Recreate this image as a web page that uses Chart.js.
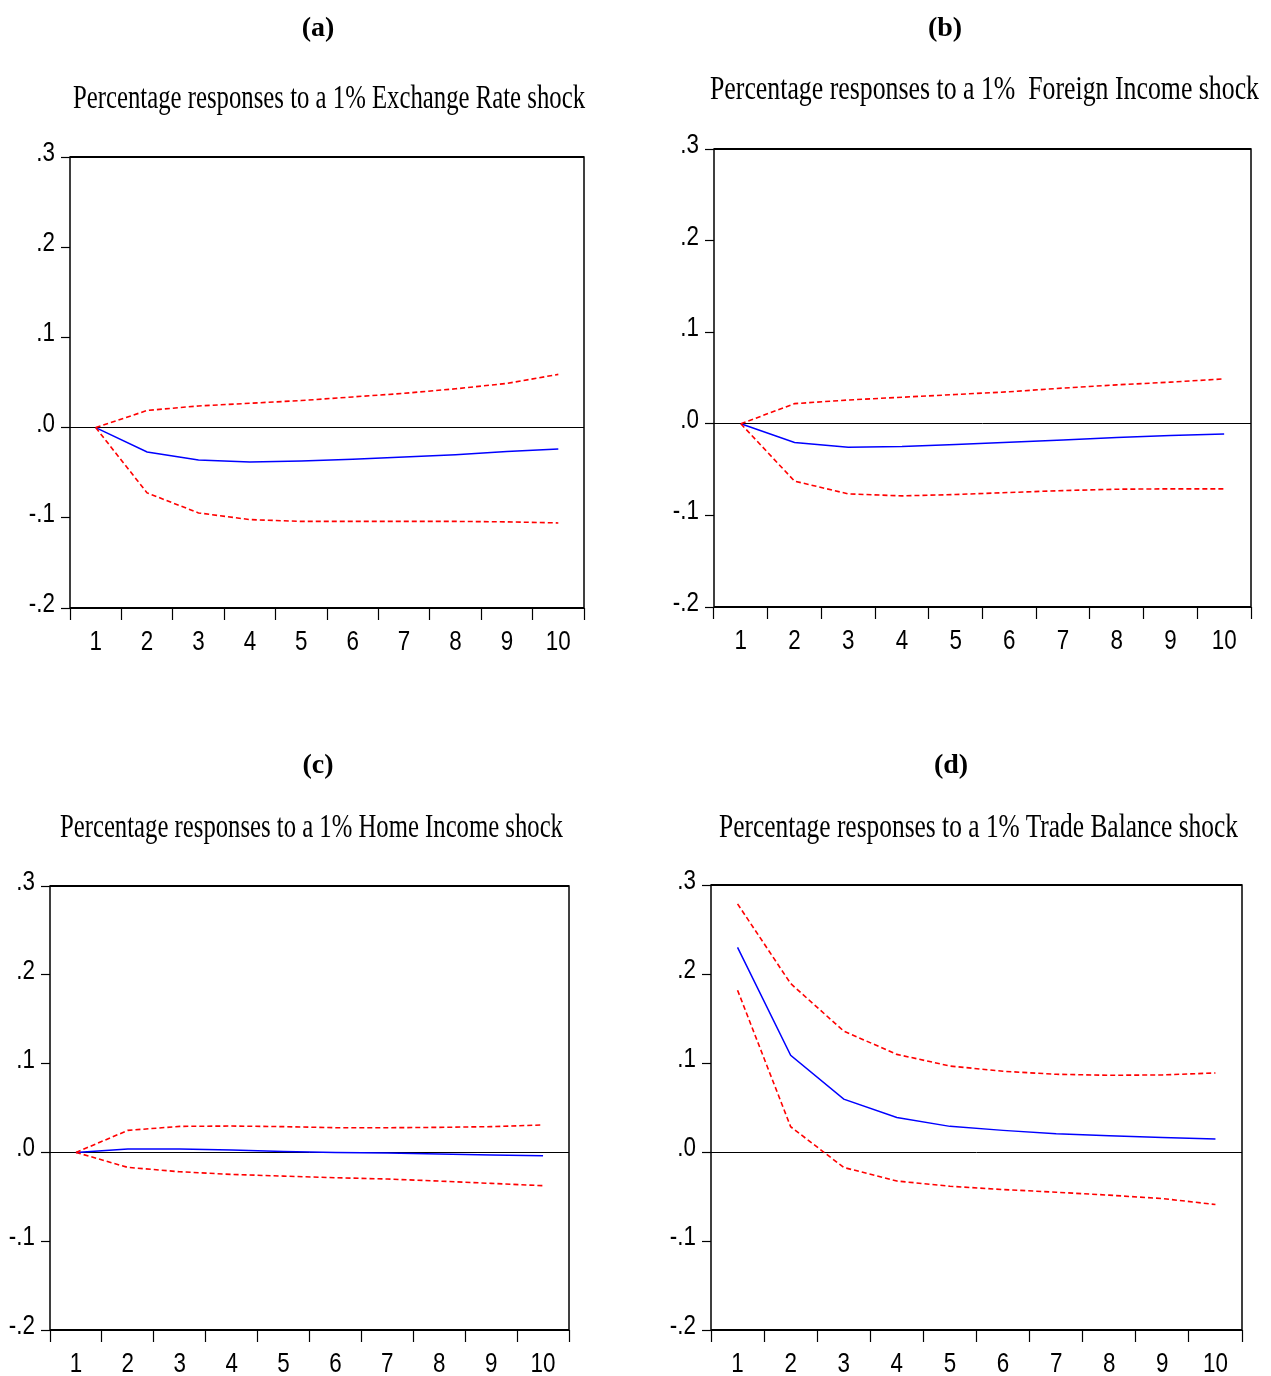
<!DOCTYPE html>
<html>
<head>
<meta charset="utf-8">
<script src="https://cdn.jsdelivr.net/npm/chart.js@4.4.0/dist/chart.umd.min.js"></script>
<style>
body { margin: 0; background: #fff; width: 1271px; height: 1376px; position: relative; overflow: hidden; }
canvas { position: absolute; }
.tag { position: absolute; font: bold 28px 'Liberation Serif', serif; transform: translate(-50%, -50%); line-height: 1; }
.ttl { position: absolute; font: 33px 'Liberation Serif', serif; white-space: pre; line-height: 1; transform-origin: 0 50%; }
</style>
</head>
<body>
<canvas id="ca" width="635" height="688" style="left:0;top:0"></canvas>
<canvas id="cb" width="635" height="688" style="left:636px;top:0"></canvas>
<canvas id="cc" width="635" height="688" style="left:0;top:688px"></canvas>
<canvas id="cd" width="635" height="688" style="left:636px;top:688px"></canvas>

<div class="tag" style="left:318px;top:27px">(a)</div>
<div class="tag" style="left:945px;top:27px">(b)</div>
<div class="tag" style="left:318px;top:764px">(c)</div>
<div class="tag" style="left:951px;top:764px">(d)</div>

<div class="ttl" data-l="73" data-r="585" data-y="97">Percentage responses to a 1% Exchange Rate shock</div>
<div class="ttl" data-l="710" data-r="1259" data-y="88">Percentage responses to a 1%  Foreign Income shock</div>
<div class="ttl" data-l="60" data-r="563" data-y="826">Percentage responses to a 1% Home Income shock</div>
<div class="ttl" data-l="719" data-r="1238" data-y="826">Percentage responses to a 1% Trade Balance shock</div>

<script>
// periods after the shock
const periods = ['1', '2', '3', '4', '5', '6', '7', '8', '9', '10'];

// (a) exchange rate shock
const erMid   = [0, -0.027, -0.036, -0.038, -0.037, -0.035, -0.0325, -0.030, -0.0266, -0.0236];
const erUpper = [0, 0.019, 0.024, 0.027, 0.030, 0.034, 0.038, 0.043, 0.049, 0.059];
const erLower = [0, -0.0724, -0.0946, -0.102, -0.104, -0.104, -0.104, -0.104, -0.1045, -0.1057];

// (b) foreign income shock
const fiMid   = [0, -0.0204, -0.0256, -0.0248, -0.0226, -0.0201, -0.0176, -0.015, -0.0128, -0.011];
const fiUpper = [0, 0.022, 0.026, 0.029, 0.032, 0.035, 0.039, 0.0425, 0.0455, 0.049];
const fiLower = [0, -0.0626, -0.0765, -0.0787, -0.0772, -0.075, -0.0729, -0.0714, -0.071, -0.071];

// (c) home income shock
const hiMid   = [0, 0.0038, 0.0038, 0.0026, 0.0011, 0, -0.0007, -0.0019, -0.003, -0.0037];
const hiUpper = [0, 0.0248, 0.0293, 0.0297, 0.029, 0.0278, 0.0278, 0.0282, 0.029, 0.0309];
const hiLower = [0, -0.0169, -0.0218, -0.0248, -0.0267, -0.0285, -0.030, -0.0323, -0.0349, -0.0375];

// (d) trade balance shock
const tbMid   = [0.2299, 0.1086, 0.0594, 0.0388, 0.0288, 0.0243, 0.0205, 0.0183, 0.0164, 0.0146];
const tbUpper = [0.2788, 0.1893, 0.1358, 0.1097, 0.0966, 0.0907, 0.0873, 0.0862, 0.0866, 0.0888];
const tbLower = [0.1818, 0.0284, -0.0174, -0.0326, -0.0385, -0.0422, -0.0452, -0.0485, -0.0523, -0.059];

// eviews style: .3  .0  -.1
function fmtTick(v) {
    const n = Math.round(v * 10);
    return (n < 0 ? '-' : '') + '.' + Math.abs(n);
}

// box around the plot area, top and bottom a bit heavier
const frame = {
    id: 'frame',
    afterDraw(chart) {
        const { ctx, chartArea: a } = chart;
        ctx.save();
        ctx.strokeStyle = '#000';
        ctx.lineWidth = 1.5;
        ctx.strokeRect(a.left, a.top, a.right - a.left, a.bottom - a.top);
        ctx.lineWidth = 2.2;
        ctx.beginPath();
        ctx.moveTo(a.left, a.top); ctx.lineTo(a.right, a.top);
        ctx.moveTo(a.left, a.bottom); ctx.lineTo(a.right, a.bottom);
        ctx.stroke();
        ctx.restore();
    }
};

// tick labels in a narrow sans (no Arial Narrow here, so squeeze Liberation Sans)
const narrowLabels = {
    id: 'narrowLabels',
    afterDraw(chart) {
        const { ctx, chartArea: a, scales: { x, y } } = chart;
        ctx.save();
        ctx.fillStyle = '#000';
        ctx.font = '28px "Liberation Sans", sans-serif';
        ctx.textBaseline = 'alphabetic';
        x.ticks.forEach((t, i) => {
            ctx.save();
            ctx.translate(x.getPixelForTick(i), a.bottom + 42);
            ctx.scale(0.8, 1);
            ctx.textAlign = 'center';
            ctx.fillText(x.getLabelForValue(t.value), 0, 0);
            ctx.restore();
        });
        y.ticks.forEach((t, i) => {
            ctx.save();
            ctx.translate(a.left - 15, y.getPixelForTick(i) + 4);
            ctx.scale(0.8, 1);
            ctx.textAlign = 'right';
            ctx.fillText(fmtTick(t.value), 0, 0);
            ctx.restore();
        });
        ctx.restore();
    }
};

function band(data) {
    return { data: data, borderColor: '#ff0000', borderWidth: 1.6, borderDash: [5, 3], pointRadius: 0, tension: 0, fill: false };
}

// box: canvas offset on the page, area: plot rectangle in page coordinates
function drawPanel(id, box, area, mid, upper, lower) {
    const ctx = document.getElementById(id).getContext('2d');
    new Chart(ctx, {
        type: 'line',
        data: {
            labels: periods,
            datasets: [
                band(upper),
                band(lower),
                { data: mid, borderColor: '#0000ff', borderWidth: 1.5, pointRadius: 0, tension: 0, fill: false }
            ]
        },
        options: {
            responsive: false,
            animation: false,
            events: [],
            layout: {
                padding: { left: 0, top: area.t - box.y, right: box.x + 635 - area.r, bottom: box.y + 688 - area.b - 60 }
            },
            plugins: { legend: { display: false }, tooltip: { enabled: false } },
            scales: {
                x: {
                    offset: true,
                    border: { display: false },
                    grid: { offset: true, drawOnChartArea: false, tickLength: 12, tickColor: '#000', tickWidth: 1.2 },
                    ticks: { display: false, autoSkip: false },
                    afterFit(s) { s.height = 60; }
                },
                y: {
                    min: -0.2,
                    max: 0.3,
                    border: { display: false },
                    grid: {
                        color: c => Math.abs(c.tick.value) < 1e-9 ? '#000' : 'rgba(0,0,0,0)',
                        lineWidth: 1,
                        tickLength: 9,
                        tickColor: '#000',
                        tickWidth: 1.2
                    },
                    ticks: { display: false, stepSize: 0.1 },
                    afterFit(s) { s.width = area.l - box.x; }
                }
            }
        },
        plugins: [frame, narrowLabels]
    });
}

drawPanel('ca', { x: 0, y: 0 }, { l: 70, r: 584, t: 157, b: 608 }, erMid, erUpper, erLower);
drawPanel('cb', { x: 636, y: 0 }, { l: 714, r: 1251, t: 149, b: 607 }, fiMid, fiUpper, fiLower);
drawPanel('cc', { x: 0, y: 688 }, { l: 50, r: 569, t: 886, b: 1330 }, hiMid, hiUpper, hiLower);
drawPanel('cd', { x: 636, y: 688 }, { l: 711, r: 1242, t: 885, b: 1330 }, tbMid, tbUpper, tbLower);

// squeeze the serif titles to the narrow width of the original
document.querySelectorAll('.ttl').forEach(el => {
    const l = +el.dataset.l, r = +el.dataset.r, y = +el.dataset.y;
    const w = el.getBoundingClientRect().width;
    el.style.left = l + 'px';
    el.style.top = (y - 16) + 'px';
    el.style.transform = 'scaleX(' + ((r - l) / w).toFixed(4) + ')';
});
</script>
</body>
</html>
